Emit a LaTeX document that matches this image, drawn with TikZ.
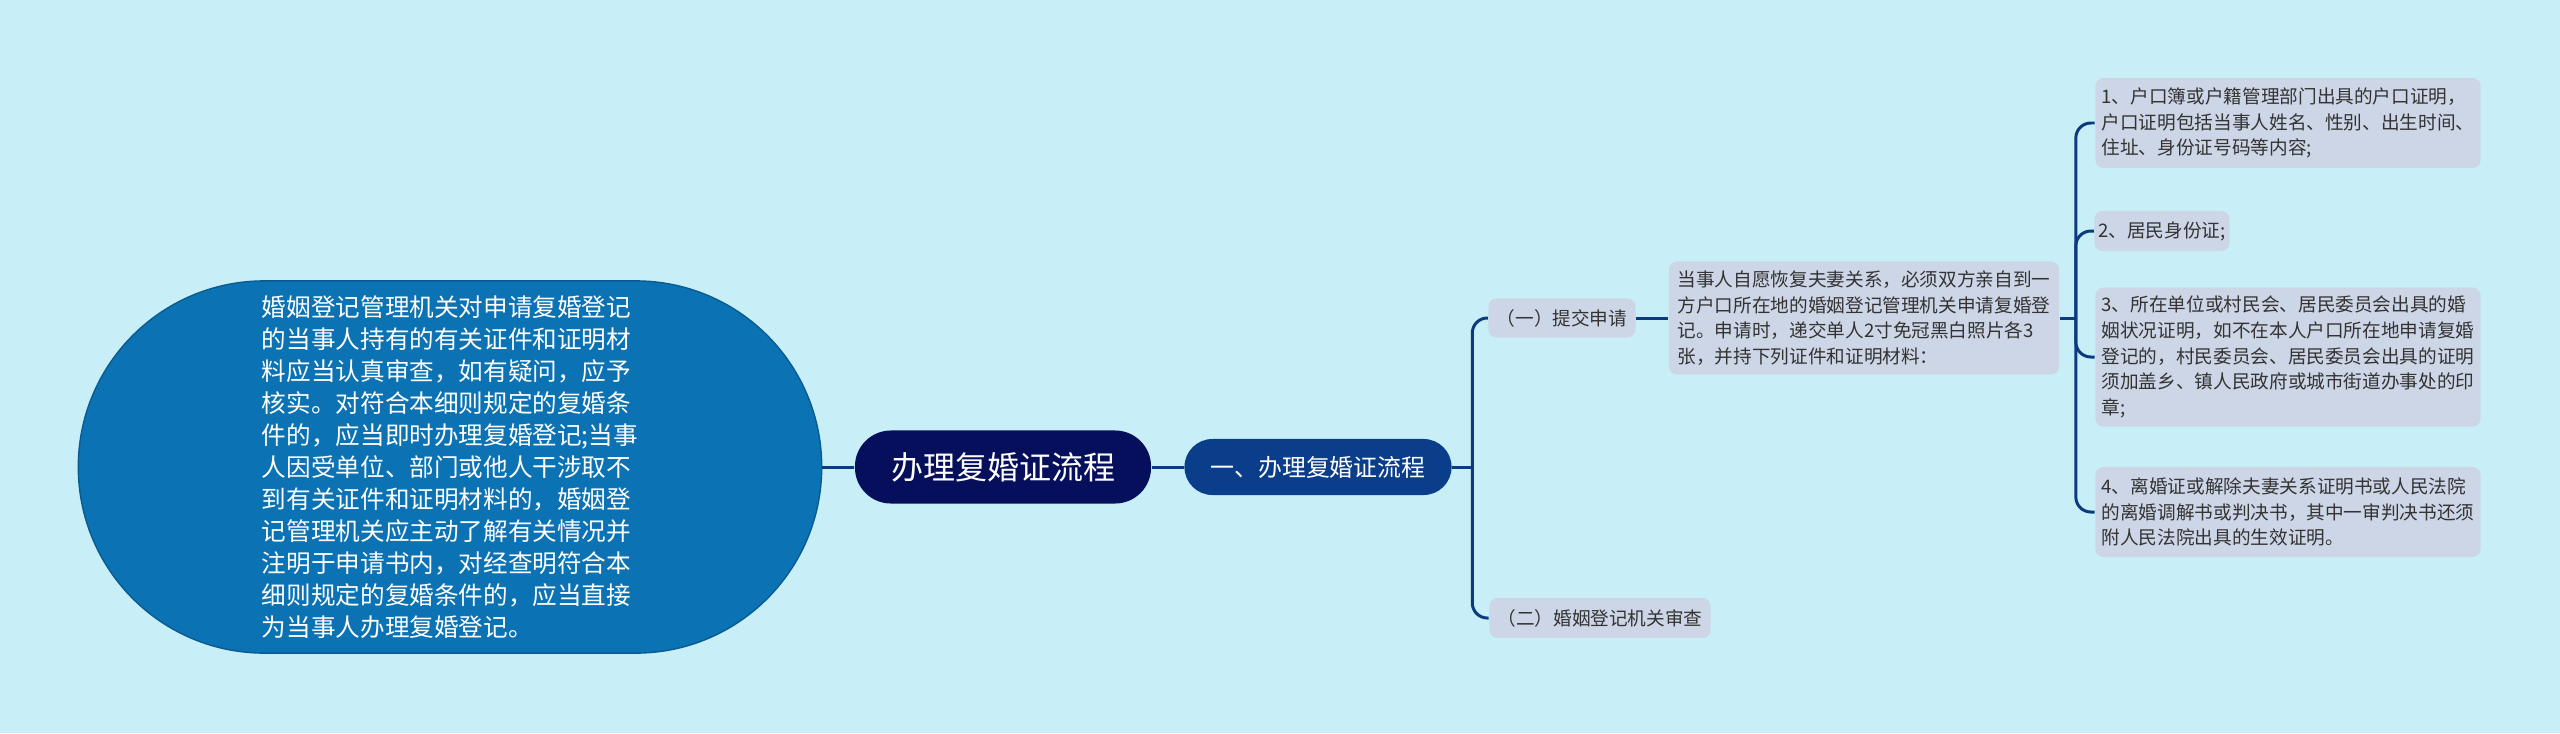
\documentclass[tikz,border=0pt]{standalone}
\usepackage{fontspec}
\setmainfont{Noto Sans CJK SC}
\definecolor{bgcol}{HTML}{C8EFF7}
\definecolor{leafcol}{HTML}{CDD6E6}
\definecolor{linecol}{HTML}{0B3A7E}
\definecolor{rootcol}{HTML}{060F5C}
\definecolor{branchcol}{HTML}{0A3E8A}
\definecolor{notecol}{HTML}{0B72B4}
\begin{document}
\begin{tikzpicture}[x=0.01cm,y=-0.01cm,
  leaf/.style={fill=leafcol, rounded corners=0.8mm, text=black!80,
    font=\fontsize{5.3}{7.3}\selectfont, align=left, inner sep=0pt},
  root/.style={fill=rootcol, rounded corners=3.6mm, text=white,
    font=\fontsize{9.1}{11}\selectfont, minimum width=2.96cm, minimum height=0.73cm},
  branch/.style={fill=branchcol, rounded corners=2.8mm, text=white,
    font=\fontsize{6.8}{8}\selectfont, minimum width=2.67cm, minimum height=0.56cm},
  note/.style={fill=notecol, draw=notecol!80!black, line width=0.4pt,
    rounded corners=18.6mm, text=white, align=left,
    font=\fontsize{7}{9.1}\selectfont, minimum width=7.43cm, minimum height=3.72cm},
  link/.style={draw=linecol, line width=0.85pt, rounded corners=1.5mm}]
%Fill the page first, so that the margins stay as in the picture,
% then put the centre topic and work out to the right, level
% by level; the long note on the left hangs off the centre topic.
\path[fill=bgcol] (0,0) rectangle (2560,733);

\node[root](root) at (1003,467) {办理复婚证流程};
\node[note](note) at (450,467) {婚姻登记管理机关对申请复婚登记\\
的当事人持有的有关证件和证明材\\
料应当认真审查，如有疑问，应予\\
核实。对符合本细则规定的复婚条\\
件的，应当即时办理复婚登记;当事\\
人因受单位、部门或他人干涉取不\\
到有关证件和证明材料的，婚姻登\\
记管理机关应主动了解有关情况并\\
注明于申请书内，对经查明符合本\\
细则规定的复婚条件的，应当直接\\
为当事人办理复婚登记。};
\node[branch](flow) at (1318,467) {一、办理复婚证流程};

% second level
\node[leaf, minimum width=1.47cm, minimum height=0.39cm](apply) at (1562,318) {（一）提交申请};
\node[leaf, minimum width=2.21cm, minimum height=0.40cm](check) at (1600,618) {（二）婚姻登记机关审查};
\node[leaf, minimum width=3.90cm, minimum height=1.13cm](need) at (1864,318) {当事人自愿恢复夫妻关系，必须双方亲自到一\\
方户口所在地的婚姻登记管理机关申请复婚登\\
记。申请时，递交单人2寸免冠黑白照片各3\\
张，并持下列证件和证明材料：};

% the four papers
\node[leaf, minimum width=3.85cm, minimum height=0.90cm](doc1) at (2288,123) {1、户口簿或户籍管理部门出具的户口证明，\\
户口证明包括当事人姓名、性别、出生时间、\\
住址、身份证号码等内容;};
\node[leaf, minimum width=1.35cm, minimum height=0.40cm](doc2) at (2162,231) {2、居民身份证;};
\node[leaf, minimum width=3.85cm, minimum height=1.39cm](doc3) at (2288,357) {3、所在单位或村民会、居民委员会出具的婚\\
姻状况证明，如不在本人户口所在地申请复婚\\
登记的，村民委员会、居民委员会出具的证明\\
须加盖乡、镇人民政府或城市街道办事处的印\\
章;};
\node[leaf, minimum width=3.85cm, minimum height=0.90cm](doc4) at (2288,512) {4、离婚证或解除夫妻关系证明书或人民法院\\
的离婚调解书或判决书，其中一审判决书还须\\
附人民法院出具的生效证明。};

% connectors
\draw[link] (note.east) -- (root.west);
\draw[link] (root.east) -- (flow.west);
\path (flow.east) ++(20,0) coordinate (forkA);
\draw[link] (flow.east) -- (forkA);
\draw[link] (forkA) |- (apply.west);
\draw[link] (forkA) |- (check.west);
\draw[link] (apply.east) -- (need.west);
\path (need.east) ++(16,0) coordinate (forkB);
\draw[link] (need.east) -- (forkB);
\foreach \d in {doc1,doc2,doc3,doc4}
  \draw[link] (forkB) |- (\d.west);
\end{tikzpicture}
\end{document}
